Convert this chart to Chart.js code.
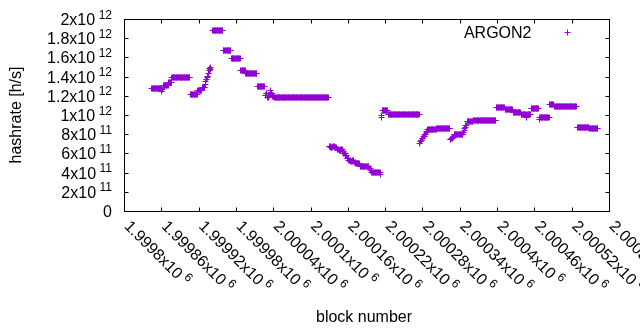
<!DOCTYPE html>
<html>
<head>
<meta charset="utf-8">
<script src="https://cdn.jsdelivr.net/npm/chart.js@4.4.1/dist/chart.umd.min.js"></script>
<style>
  html, body { margin: 0; padding: 0; background: #fff; }
</style>
</head>
<body>
<canvas id="grafico" width="640" height="330"></canvas>
<script>
// runs of blocks with the same hashrate (units of 1e10 h/s)
const runFirst = [1999844, 1999860, 1999861, 1999862, 1999863, 1999871, 1999876, 1999906, 1999918, 1999925,
  1999930, 1999931, 1999932, 1999933, 1999934, 1999935, 1999936, 1999937, 1999938, 1999939,
  1999942, 1999959, 1999972, 1999987, 1999995, 2000014, 2000026, 2000028, 2000030, 2000032,
  2000034, 2000035, 2000036, 2000038, 2000039, 2000041, 2000129, 2000132, 2000135, 2000138,
  2000142, 2000145, 2000148, 2000151, 2000153, 2000156, 2000158, 2000161, 2000164, 2000167,
  2000170, 2000172, 2000175, 2000179, 2000194, 2000196, 2000198, 2000212, 2000213, 2000214,
  2000215, 2000224, 2000275, 2000276, 2000277, 2000279, 2000281, 2000283, 2000285, 2000286,
  2000288, 2000302, 2000324, 2000326, 2000328, 2000330, 2000345, 2000346, 2000347, 2000348,
  2000349, 2000351, 2000361, 2000398, 2000412, 2000425, 2000438, 2000446, 2000447, 2000454,
  2000467, 2000468, 2000484, 2000491, 2000528, 2000548];
const runLast = [1999859, 1999860, 1999861, 1999862, 1999870, 1999875, 1999905, 1999917, 1999924, 1999929,
  1999930, 1999931, 1999932, 1999933, 1999934, 1999935, 1999936, 1999937, 1999938, 1999939,
  1999958, 1999971, 1999986, 1999994, 2000013, 2000025, 2000027, 2000029, 2000031, 2000033,
  2000034, 2000035, 2000037, 2000038, 2000040, 2000128, 2000131, 2000134, 2000137, 2000141,
  2000144, 2000147, 2000150, 2000152, 2000155, 2000157, 2000160, 2000163, 2000166, 2000169,
  2000171, 2000174, 2000178, 2000193, 2000195, 2000197, 2000211, 2000212, 2000213, 2000214,
  2000223, 2000274, 2000275, 2000276, 2000278, 2000280, 2000282, 2000284, 2000285, 2000287,
  2000301, 2000323, 2000325, 2000327, 2000329, 2000344, 2000345, 2000346, 2000347, 2000348,
  2000350, 2000360, 2000397, 2000411, 2000424, 2000437, 2000445, 2000446, 2000453, 2000466,
  2000467, 2000483, 2000490, 2000527, 2000547, 2000561];
const runRate = [128.5, 125, 127, 129, 131, 134, 139.5, 122, 126, 129,
  132, 135, 137, 140, 141, 144, 147, 149, 150, 148,
  188.5, 167.5, 159, 147, 143.5, 130, 121, 122.5, 119, 121,
  124, 126, 123, 120, 119.5, 118.5, 67.5, 66.5, 67.5, 66.5,
  65, 64, 65, 62.5, 60.5, 58.5, 55.5, 53.5, 52.5, 53.5,
  51, 50.5, 49.5, 46.8, 45, 43, 41, 39, 98, 100,
  105.5, 101, 71, 72.5, 74, 76, 78, 80.5, 82, 83.5,
  85.2, 86.2, 75, 76, 77, 80, 82, 84, 86, 88,
  90, 93.5, 94.5, 108.7, 106.3, 103.1, 101.3, 98, 101.3, 107,
  96, 98.3, 111.8, 109.8, 87.8, 86.1];

const xTicks = [1999800, 1999860, 1999920, 1999980, 2000040, 2000100, 2000160,
  2000220, 2000280, 2000340, 2000400, 2000460, 2000520, 2000580];
const xTickLabels = ['1.9998', '1.99986', '1.99992', '1.99998', '2.00004', '2.0001', '2.00016',
  '2.00022', '2.00028', '2.00034', '2.0004', '2.00046', '2.00052', '2.00058'];
const xTickExp = '6';
const yTicks = [0, 2e11, 4e11, 6e11, 8e11, 1e12, 1.2e12, 1.4e12, 1.6e12, 1.8e12, 2e12];
const yTickLabels = ['0', '2', '4', '6', '8', '1', '1.2', '1.4', '1.6', '1.8', '2'];
const yTickExp = ['', '11', '11', '11', '11', '12', '12', '12', '12', '12', '12'];

const puntos = [];
runRate.forEach(function (r, i) {
  for (let b = runFirst[i]; b <= runLast[i]; b++) puntos.push({ x: b, y: r * 1e10 });
});

const FUENTE = '"Liberation Sans", Arial, sans-serif';
const VIOLETA = '#9400d3';

const ejesGnuplot = {
  id: 'ejesGnuplot',
  beforeDatasetsDraw(chart) {
    // snap the crosses to the pixel grid, like gnuplot does
    chart.getDatasetMeta(0).data.forEach(function (p) {
      p.x = Math.round(p.x - 0.5) + 0.5;
      p.y = Math.round(p.y - 0.5) + 0.5;
    });

    const ctx = chart.ctx;
    const a = chart.chartArea;
    const sx = chart.scales.x, sy = chart.scales.y;
    ctx.save();
    ctx.strokeStyle = '#000';
    ctx.lineWidth = 1;
    ctx.strokeRect(a.left, a.top, a.right - a.left, a.bottom - a.top);
    ctx.beginPath();
    xTicks.forEach(function (v) {
      const px = Math.round(sx.getPixelForValue(v) - 0.5) + 0.5;
      ctx.moveTo(px, a.bottom); ctx.lineTo(px, a.bottom - 4);
      ctx.moveTo(px, a.top); ctx.lineTo(px, a.top + 4);
    });
    yTicks.forEach(function (v) {
      const py = Math.round(sy.getPixelForValue(v) - 0.5) + 0.5;
      ctx.moveTo(a.left, py); ctx.lineTo(a.left + 4, py);
      ctx.moveTo(a.right, py); ctx.lineTo(a.right - 4, py);
    });
    ctx.stroke();

    ctx.fillStyle = '#000';
    // y tick labels
    yTicks.forEach(function (v, i) {
      const py = sy.getPixelForValue(v);
      ctx.textAlign = 'right';
      ctx.textBaseline = 'alphabetic';
      let xr = 112;
      let txt = yTickLabels[i];
      if (yTickExp[i]) {
        ctx.font = '12px ' + FUENTE;
        ctx.fillText(yTickExp[i], xr, py - 1);
        xr -= ctx.measureText(yTickExp[i]).width + 3.5;
        txt += 'x10';
      }
      ctx.font = '16px ' + FUENTE;
      ctx.fillText(txt, xr, py + 5.5);
    });
    // x tick labels, rotated
    xTicks.forEach(function (v, i) {
      const px = sx.getPixelForValue(v);
      ctx.save();
      ctx.translate(px - 1, 227);
      ctx.rotate(Math.PI / 4);
      ctx.textAlign = 'left';
      ctx.textBaseline = 'alphabetic';
      ctx.font = '16px ' + FUENTE;
      const txt = xTickLabels[i] + 'x10';
      ctx.fillText(txt, 0, 0);
      const w = ctx.measureText(txt).width;
      ctx.font = '12px ' + FUENTE;
      ctx.fillText(xTickExp, w + 3.5, -6.5);
      ctx.restore();
    });

    // axis titles
    ctx.font = '16px ' + FUENTE;
    ctx.textAlign = 'center';
    ctx.fillText('block number', 364, 322);
    ctx.save();
    ctx.translate(21, 115);
    ctx.rotate(-Math.PI / 2);
    ctx.fillText('hashrate [h/s]', 0, 0);
    ctx.restore();
    ctx.restore();
  },
  afterDraw(chart) {
    const ctx = chart.ctx;
    const ds = chart.data.datasets[0];
    ctx.save();
    ctx.fillStyle = '#000';
    ctx.font = '16px ' + FUENTE;
    ctx.textAlign = 'right';
    ctx.textBaseline = 'alphabetic';
    ctx.fillText(ds.label, 531.5, 37.5);
    ctx.strokeStyle = VIOLETA;
    ctx.lineWidth = 1;
    ctx.beginPath();
    ctx.moveTo(564.5, 32.5); ctx.lineTo(570.5, 32.5);
    ctx.moveTo(567.5, 29.5); ctx.lineTo(567.5, 35.5);
    ctx.stroke();
    ctx.restore();
  }
};

new Chart(document.getElementById('grafico').getContext('2d'), {
  type: 'scatter',
  data: {
    datasets: [{
      label: 'ARGON2',
      data: puntos,
      pointStyle: 'cross',
      pointRadius: 3,
      pointHoverRadius: 3,
      borderColor: VIOLETA,
      backgroundColor: VIOLETA,
      borderWidth: 1,
      showLine: false
    }]
  },
  options: {
    responsive: false,
    animation: false,
    layout: { padding: { left: 124.5, right: 30.5, top: 19.5, bottom: 118.5 } },
    scales: {
      x: { type: 'linear', min: 1999800, max: 2000580, display: false },
      y: { type: 'linear', min: 0, max: 2e12, display: false }
    },
    plugins: {
      legend: { display: false },
      tooltip: { enabled: false }
    }
  },
  plugins: [ejesGnuplot]
});
</script>
</body>
</html>
